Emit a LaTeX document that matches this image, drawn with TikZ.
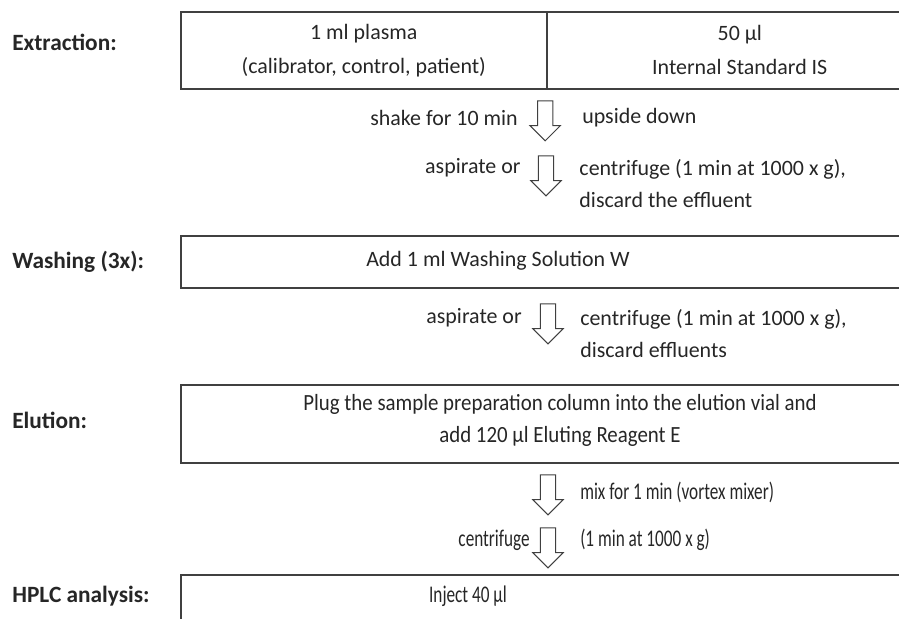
\documentclass[tikz,border=0pt]{standalone}
\usepackage{fontspec}
\setmainfont{Carlito}
\newfontfamily\narrowfont[FakeStretch=0.72]{Carlito}
\newfontfamily\slimfont[FakeStretch=0.9]{Carlito}
\usetikzlibrary{shapes.arrows}

\begin{document}
\begin{tikzpicture}[font=\fontsize{15.6}{22.7}\selectfont, black!85,
  stepbox/.style={draw=black!75, line width=1.1pt, rectangle, anchor=north west, inner sep=0pt},
  stage/.style={anchor=west, inner sep=0pt, font=\fontsize{16.6}{22.7}\selectfont\bfseries},
  down/.style={single arrow, draw=black!75, fill=white, line width=0.7pt, shape border rotate=270,
    minimum height=1cm, inner sep=0.18cm, single arrow head extend=0.19cm},
  note/.style={inner sep=0pt, align=left},
  tight/.style={font=\fontsize{17}{22.7}\narrowfont}]
  % 1 unit = 40 px of the reference, y-coordinate = -(pixel row)/40
  \useasboundingbox (0,0) rectangle (22.475,-15.475);
  \clip (0,0) rectangle (22.475,-15.475);

  % stage names
  \node[stage] (extraction) at (0.3,-1.05) {Extraction:};
  \node[stage] (washing) at (0.3,-6.55) {Washing (3x):};
  \node[stage] (elution) at (0.3,-10.5) {Elution:};
  \node[stage] (hplc) at (0.3,-14.9) {HPLC analysis:};

  % boxes, open to the right
  \node[stepbox, minimum width=9.15cm, minimum height=1.925cm, align=center,
    font=\fontsize{15.6}{24.2}\selectfont] (plasma) at (4.5,-0.275) {1 ml plasma\\(calibrator, control, patient)};
  \node[stepbox, minimum width=9.65cm, minimum height=1.925cm, align=center,
    font=\fontsize{15.6}{24.2}\selectfont] (istd) at (13.65,-0.275) {50 µl\\Internal Standard IS};
  \node[stepbox, minimum width=19.5cm, minimum height=1.3cm] (washbox) at (4.5,-5.875) {};
  \node[stepbox, minimum width=19.5cm, minimum height=1.95cm] (elubox) at (4.5,-9.6) {};
  \node[stepbox, minimum width=19.5cm, minimum height=2cm] (hplcbox) at (4.5,-14.35) {};
  \node[inner sep=0pt] (washtext) at (12.45,-6.525) {Add 1 ml Washing Solution W};
  \node[inner sep=0pt, align=center, font=\fontsize{16.5}{22.7}\slimfont] (elutext) at (14.0,-10.51)
    {Plug the sample preparation column into the elution vial and\\add 120 µl Eluting Reagent E};
  \node[inner sep=0pt, tight] (injtext) at (11.7,-14.9) {Inject 40 µl};

  % block arrows with their notes
  \node[down] (a1) at (13.63,-2.925) {};
  \node[note, anchor=east] (shake) at (12.95,-2.95) {shake for 10 min};
  \node[note, anchor=west] (upside) at (14.55,-2.95) {upside down};
  \node[down] (a2) at (13.65,-4.3) {};
  \node[note, anchor=east] (asp1) at (13.02,-4.2) {aspirate or};
  \node[note, anchor=west] (cent1) at (14.48,-4.6) {centrifuge (1 min at 1000 x g),\\discard the effluent};
  \node[down] (a3) at (13.7,-8.0) {};
  \node[note, anchor=east] (asp2) at (13.05,-7.95) {aspirate or};
  \node[note, anchor=west] (cent2) at (14.5,-8.35) {centrifuge (1 min at 1000 x g),\\discard effluents};
  \node[down] (a4) at (13.7,-12.275) {};
  \node[note, anchor=west, tight] (mix) at (14.5,-12.32) {mix for 1 min (vortex mixer)};
  \node[down] (a5) at (13.7,-13.6) {};
  \node[note, anchor=east, tight] (cent3) at (13.25,-13.5) {centrifuge};
  \node[note, anchor=west, tight] (cent4) at (14.5,-13.5) {(1 min at 1000 x g)};
\end{tikzpicture}
\end{document}
